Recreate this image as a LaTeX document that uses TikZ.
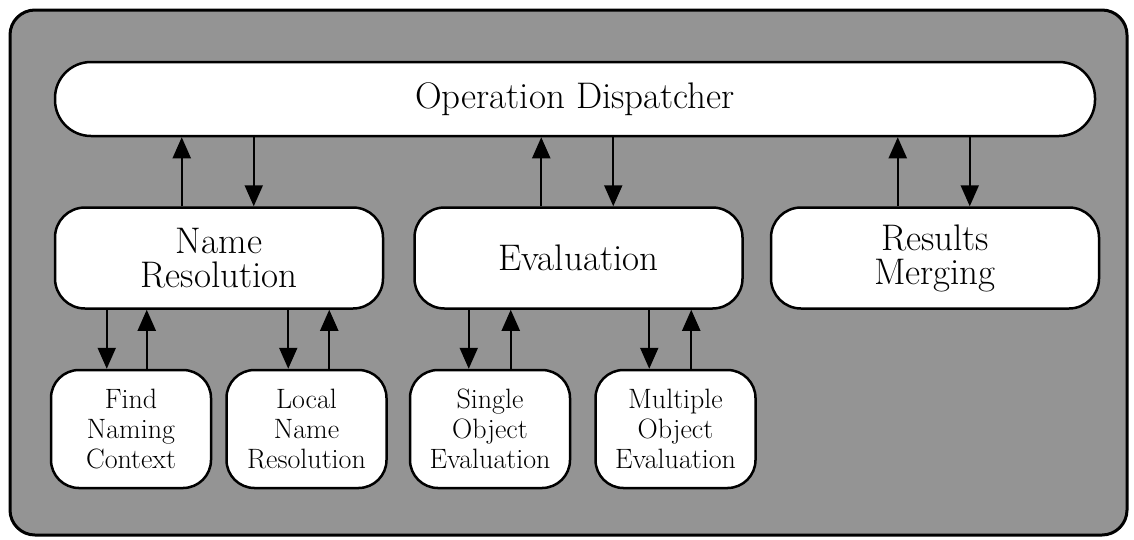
\documentclass[tikz,border=0pt]{standalone}
\usepackage{fontspec}
\usepackage{tikz}
\usetikzlibrary{arrows.meta, positioning}
\definecolor{panelgray}{gray}{0.58}

\begin{document}
\begin{tikzpicture}[
  x=1pt, y=-1pt,
  bigbox/.style={rectangle, draw, line width=2.5pt, fill=white, rounded corners=30pt,
                 minimum width=328pt, minimum height=101pt, align=center,
                 font=\fontsize{37}{34}\selectfont},
  smallbox/.style={bigbox, rounded corners=28pt, minimum width=160pt, minimum height=118pt,
                   font=\fontsize{28}{30}\selectfont},
  arr/.style={-{Triangle[length=21pt,width=18pt]}, line width=2pt},
]
  \useasboundingbox (0,0) rectangle (1134,539);
  \draw[line width=3pt, fill=panelgray, rounded corners=25pt] (10,10) rectangle (1127,535);

  \node[bigbox, rounded corners=36pt, minimum width=1040pt, minimum height=74pt] (disp)
    at (575,99) {Operation Dispatcher};

  \node[bigbox, below right=69pt and 0pt of disp.south west] (nr) {Name\\Resolution};
  \node[bigbox, right=29pt of nr] (ev) {Evaluation};
  \node[bigbox, right=26pt of ev] (rm) {Results\\Merging};

  \node[smallbox, below right=59pt and -4pt of nr.south west] (fnc) {Find\\Naming\\Context};
  \node[smallbox, right=13pt of fnc] (lnr) {Local\\Name\\Resolution};
  \node[smallbox, right=21pt of lnr] (soe) {Single\\Object\\Evaluation};
  \node[smallbox, right=23pt of soe] (moe) {Multiple\\Object\\Evaluation};

  \foreach \b in {nr,ev,rm}{
    \coordinate (up\b) at ([xshift=128pt]\b.north west);
    \coordinate (dn\b) at ([xshift=200pt]\b.north west);
    \draw[arr] (up\b) -- (up\b |- disp.south);
    \draw[arr] (dn\b |- disp.south) -- (dn\b);
  }
  \foreach \p/\c/\d/\u in {nr/fnc/57/97, nr/lnr/63/104, ev/soe/60/102, ev/moe/55/97}{
    \coordinate (d\c) at ([xshift=\d pt]\c.north west);
    \coordinate (u\c) at ([xshift=\u pt]\c.north west);
    \draw[arr] (d\c |- \p.south) -- (d\c);
    \draw[arr] (u\c) -- (u\c |- \p.south);
  }
\end{tikzpicture}
\end{document}
